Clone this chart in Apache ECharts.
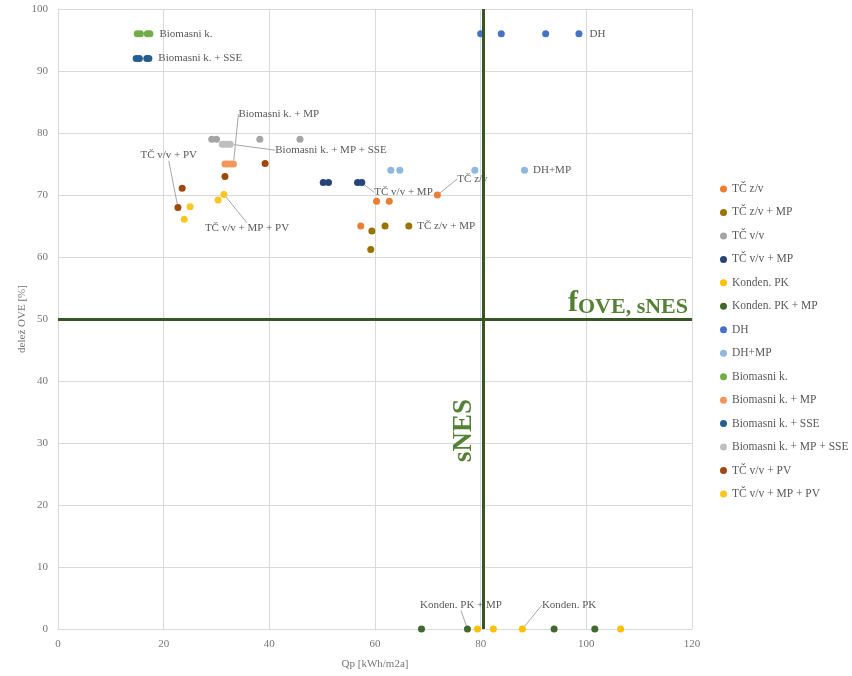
<!DOCTYPE html>
<html><head><meta charset="utf-8">
<script src="https://cdn.jsdelivr.net/npm/echarts@6/dist/echarts.min.js"></script>
<style>html,body{margin:0;padding:0;background:#fff}#c{width:852px;height:676px}</style>
</head><body><div id="c"></div>
<script>
// ---- data (Qp [kWh/m2a], delež OVE [%]) ----
const seriesNames = ['TČ z/v','TČ z/v + MP','TČ v/v','TČ v/v + MP','Konden. PK','Konden. PK + MP','DH','DH+MP','Biomasni k.','Biomasni k. + MP','Biomasni k. + SSE','Biomasni k. + MP + SSE','TČ v/v + PV','TČ v/v + MP + PV'];
const tcZv        = [[71.8,70],[60.3,69],[62.7,69],[57.3,65]];
const tcZvMP      = [[59.4,64.2],[61.9,65],[66.4,65],[59.2,61.2]];
const tcVv        = [[29.1,79],[30.0,79],[38.2,79],[45.8,79]];
const tcVvMP      = [[50.2,72],[51.2,72],[56.7,72],[57.5,72]];
const kondenPK    = [[79.4,0],[82.4,0],[87.9,0],[106.5,0]];
const kondenPKMP  = [[68.8,0],[77.5,0],[93.9,0],[101.6,0]];
const dh          = [[80.0,96],[83.9,96],[92.3,96],[98.6,96]];
const dhMP        = [[63.0,74],[64.7,74],[78.9,74],[88.3,74]];
const biomasni    = [[15.0,96],[15.6,96],[16.9,96],[17.4,96]];
const biomasniMP  = [[31.6,75],[32.1,75],[32.7,75],[33.2,75]];
const biomasniSSE = [[14.8,92],[15.4,92],[16.8,92],[17.2,92]];
const biomasniMPSSE = [[31.1,78.2],[31.5,78.2],[32.1,78.2],[32.6,78.2]];
const tcVvPV      = [[22.7,68],[23.5,71.1],[31.6,73],[39.2,75.1]];
const tcVvMPPV    = [[23.9,66.1],[25.0,68.1],[30.3,69.2],[31.4,70.1]];
const xTicks = [0,20,40,60,80,100,120];
const yTicks = [0,10,20,30,40,50,60,70,80,90,100];
const thresholdQp = 80.5;   // sNES
const thresholdOve = 50;    // fOVE, sNES

// ---- styles ----
const FONT = 'Liberation Serif';
const colors = ['#ED7D31','#997300','#A5A5A5','#264478','#FFC000','#43682B','#4472C4','#8FB8E0','#70AD47','#F1975A','#255E91','#BFBFBF','#9E480E','#F9C623'];
const allData = [tcZv,tcZvMP,tcVv,tcVvMP,kondenPK,kondenPKMP,dh,dhMP,biomasni,biomasniMP,biomasniSSE,biomasniMPSSE,tcVvPV,tcVvMPPV];
// which point carries the data label, and how the label is moved (null = no label)
const labelCfg = [
  {i:0, dx:11.5, dy:-16, line:true},
  {i:2, dx:0, dy:0, line:false},
  null,
  {i:3, dx:4, dy:10, line:true},
  {i:2, dx:11, dy:-24, line:true},
  {i:1, dx:-56, dy:-24, line:true},
  {i:3, dx:2, dy:0, line:false},
  {i:3, dx:0, dy:0, line:false},
  {i:3, dx:1, dy:0, line:false},
  {i:3, dx:-3.5, dy:-50, line:true},
  {i:3, dx:1, dy:0, line:false},
  {i:3, dx:36.5, dy:6, line:true},
  {i:0, dx:-46, dy:-52, line:true},
  {i:3, dx:-27.5, dy:34, line:true}
];

const series = seriesNames.map((name, k) => {
  const lc = labelCfg[k];
  return {
    name, type:'scatter', symbol:'circle', symbolSize:7, clip:false,
    itemStyle:{color:colors[k], opacity:1},
    data: allData[k].map((p, i) => (lc && i === lc.i) ? {value:p, label:{show:true}} : p),
    label:{show:false, position:'right', distance:5, formatter:name, color:'#595959', fontFamily:FONT, fontSize:11},
    labelLayout: lc ? {dx:lc.dx, dy:lc.dy} : undefined,
    labelLine: {show: !!(lc && lc.line), lineStyle:{color:'#A6A6A6', width:1}},
    z: 3
  };
});
series.push({
  type:'scatter', data:[], silent:true, z:2,
  markLine:{silent:true, symbol:'none', animation:false, label:{show:false},
    lineStyle:{color:'#375623', width:3, type:'solid'},
    data:[{xAxis:thresholdQp},{yAxis:thresholdOve}]}
});

const axisText = {color:'#767676', fontFamily:FONT, fontSize:11};
const option = {
  animation:false,
  backgroundColor:'#fff',
  grid:{left:58, right:160, top:9, bottom:47},
  xAxis:{type:'value', min:xTicks[0], max:xTicks[xTicks.length-1], interval:20,
    axisLine:{show:true, lineStyle:{color:'#D9D9D9'}}, axisTick:{show:false},
    splitLine:{show:true, lineStyle:{color:'#D9D9D9'}},
    axisLabel:Object.assign({margin:10}, axisText),
    name:'Qp [kWh/m2a]', nameLocation:'middle', nameGap:30, nameMoveOverlap:false, nameTextStyle:axisText},
  yAxis:{type:'value', min:yTicks[0], max:yTicks[yTicks.length-1], interval:10,
    axisLine:{show:true, lineStyle:{color:'#D9D9D9'}}, axisTick:{show:false},
    splitLine:{show:true, lineStyle:{color:'#D9D9D9'}},
    axisLabel:Object.assign({margin:10}, axisText),
    name:'delež OVE [%]', nameLocation:'middle', nameGap:30, nameMoveOverlap:false, nameRotate:90, nameTextStyle:axisText},
  legend:{data:seriesNames, orient:'vertical', left:720, top:183, padding:0, itemWidth:7, itemHeight:7, itemGap:11.46,
    icon:'circle', textStyle:{color:'#595959', fontFamily:FONT, fontSize:11.5, lineHeight:12}},
  series
};
const chart = echarts.init(document.getElementById('c'));
chart.setOption(option);

// annotation texts placed from axis scales
const pEnd = chart.convertToPixel({gridIndex:0}, [xTicks[xTicks.length-1], thresholdOve]);
const pS = chart.convertToPixel({gridIndex:0}, [thresholdQp, 32]);
chart.setOption({graphic:[
  {type:'text', x:pEnd[0]-4, y:pEnd[1]-1, z:10,
   style:{text:'{f|f}{s|OVE, sNES}', align:'right', verticalAlign:'bottom',
     rich:{f:{fill:'#548235', fontSize:30, fontWeight:'bold', fontFamily:FONT, verticalAlign:'bottom', lineHeight:30},
           s:{fill:'#548235', fontSize:22, fontWeight:'bold', fontFamily:FONT, verticalAlign:'bottom', lineHeight:23}}}},
  {type:'text', x:pS[0]-19, y:pS[1], rotation:Math.PI/2, z:10,
   style:{text:'sNES', align:'center', verticalAlign:'middle', fill:'#548235', fontSize:27, fontWeight:'bold', fontFamily:FONT}}
]});
</script></body></html>
